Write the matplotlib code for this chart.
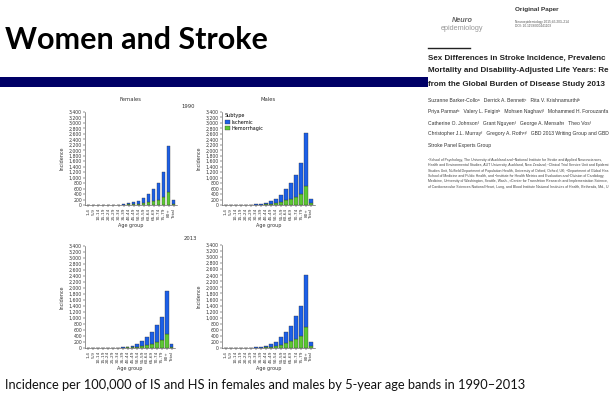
import numpy as np
import matplotlib
matplotlib.use("Agg")
import matplotlib.pyplot as plt
from matplotlib.patches import Rectangle

# --- data (incidence per 100,000) ---
AGE_GROUPS = ["1-4", "5-9", "10-14", "15-19", "20-24", "25-29", "30-34", "35-39",
              "40-44", "45-49", "50-54", "55-59", "60-64", "65-69", "70-74",
              "75-79", "80+", "Total"]

# hemorrhagic (bottom, green) and ischemic (top, blue)
F1990_HS = [2, 2, 2, 3, 4, 6, 8, 12, 20, 35, 50, 70, 100, 140, 200, 290, 460, 45]
F1990_IS = [4, 3, 3, 3, 4, 6, 10, 18, 35, 65, 110, 180, 290, 440, 620, 910, 1690, 125]
M1990_HS = [2, 2, 2, 3, 4, 6, 10, 18, 30, 50, 80, 120, 170, 220, 310, 400, 680, 60]
M1990_IS = [4, 3, 3, 3, 4, 8, 12, 22, 40, 80, 150, 260, 410, 580, 790, 1150, 1970, 160]
F2013_HS = [2, 2, 2, 3, 4, 5, 7, 10, 18, 30, 45, 70, 100, 140, 190, 280, 480, 35]
F2013_IS = [3, 3, 3, 3, 4, 5, 8, 15, 27, 50, 105, 170, 270, 380, 570, 740, 1420, 105]
M2013_HS = [2, 2, 2, 3, 4, 6, 9, 15, 25, 45, 70, 110, 160, 220, 300, 400, 690, 55]
M2013_IS = [3, 3, 3, 3, 4, 6, 10, 18, 35, 75, 140, 240, 380, 510, 750, 980, 1730, 135]

BLUE = "#1c5fe8"
GREEN = "#5cc832"
NAVY = "#000066"
PAPER_FONT = "Liberation Sans"

W, H = 610, 400
fig = plt.figure(figsize=(6.1, 4.0), dpi=100)
fig.patch.set_facecolor("white")
renderer = fig.canvas.get_renderer()


def px_axes(l, t, r, b):
    return fig.add_axes([l / W, 1 - b / H, (r - l) / W, (b - t) / H])


def clipped_text(x, y, s, **kw):
    # the slide shows the paper cut off at the right edge; trim to what fits
    t = fig.text(x / W, 1 - y / H, s, ha="left", va="center", family=PAPER_FONT, **kw)
    while s and t.get_window_extent(renderer).x1 > W - 1:
        s = s[:-1]
        t.set_text(s)
    return t


def panel(ax, hs, is_, title=None):
    x = np.arange(len(AGE_GROUPS))
    ax.bar(x, hs, width=0.78, color=GREEN, edgecolor="#333333", linewidth=0.25)
    ax.bar(x, is_, bottom=hs, width=0.78, color=BLUE, edgecolor="#333333", linewidth=0.25)
    ax.set_xlim(-0.7, len(AGE_GROUPS) - 0.3)
    ax.set_ylim(0, 3400)
    ax.set_yticks(np.arange(0, 3401, 200))
    ax.set_yticklabels([f"{v:,}" for v in range(0, 3401, 200)], fontsize=3.3, color="#333333")
    ax.set_xticks(x)
    ax.set_xticklabels(AGE_GROUPS, rotation=90, fontsize=3.1, color="#333333")
    ax.tick_params(length=1.2, width=0.3, pad=1)
    for s in ["top", "right"]:
        ax.spines[s].set_visible(False)
    for s in ["left", "bottom"]:
        ax.spines[s].set_linewidth(0.4)
        ax.spines[s].set_color("#444444")
    ax.set_ylabel("Incidence", fontsize=3.5, color="#333333", labelpad=3)
    ax.set_xlabel("Age group", fontsize=3.5, color="#333333", labelpad=2)
    if title:
        ax.set_title(title, fontsize=3.8, color="#333333", pad=8)


ax1 = px_axes(85, 112, 177, 205)
panel(ax1, F1990_HS, F1990_IS, "Females")
ax2 = px_axes(222, 112, 315, 205)
panel(ax2, M1990_HS, M1990_IS, "Males")
ax3 = px_axes(85, 246, 175, 348)
panel(ax3, F2013_HS, F2013_IS)
ax4 = px_axes(222, 245, 315, 348)
panel(ax4, M2013_HS, M2013_IS)

handles = [Rectangle((0, 0), 1, 1, fc=BLUE, ec="#333333", lw=0.25),
           Rectangle((0, 0), 1, 1, fc=GREEN, ec="#333333", lw=0.25)]
leg = ax2.legend(handles, ["Ischemic", "Hemorrhagic"], title="Subtype", loc="upper left",
                 bbox_to_anchor=(0.0, 1.02), fontsize=3.5, title_fontsize=3.5,
                 frameon=False, handlelength=1.0, handleheight=1.0, handletextpad=0.4,
                 labelspacing=0.3, borderaxespad=0.2)
leg._legend_box.align = "left"

fig.text(188 / W, 1 - 107 / H, "1990", fontsize=3.8, color="#333333", ha="center", va="center")
fig.text(190 / W, 1 - 238 / H, "2013", fontsize=3.8, color="#333333", ha="center", va="center")

# slide title and navy rule
fig.text(5 / W, 1 - 40 / H, "Women and Stroke", fontsize=22, fontweight="bold",
         family="Lato", color="black", ha="left", va="center")
fig.add_artist(Rectangle((0, 1 - 87 / H), 428 / W, 10 / H, transform=fig.transFigure,
                         fc=NAVY, ec="none"))

# paper excerpt on the right
fig.text(515 / W, 1 - 9 / H, "Original Paper", fontsize=4.6, fontweight="bold",
         family=PAPER_FONT, color="#333333", ha="left", va="center")
fig.text(515 / W, 1 - 22 / H, "Neuroepidemiology 2015;45:203–214", fontsize=2.3,
         family=PAPER_FONT, color="#555555", ha="left", va="center")
fig.text(515 / W, 1 - 26 / H, "DOI: 10.1159/000441103", fontsize=2.3,
         family=PAPER_FONT, color="#555555", ha="left", va="center")
fig.text(462 / W, 1 - 20 / H, "Neuro", fontsize=5.2, fontweight="bold", style="italic",
         family=PAPER_FONT, color="#666666", ha="center", va="center")
fig.text(462 / W, 1 - 28 / H, "epidemiology", fontsize=5.2, family=PAPER_FONT,
         color="#999999", ha="center", va="center")
fig.add_artist(plt.Line2D([428 / W, 470 / W], [1 - 48 / H, 1 - 48 / H],
                          transform=fig.transFigure, color="#222222", lw=1.0))

paper_title = ["Sex Differences in Stroke Incidence, Prevalence,",
               "Mortality and Disability-Adjusted Life Years: Results",
               "from the Global Burden of Disease Study 2013"]
for i, line in enumerate(paper_title):
    clipped_text(428, 58 + 13 * i, line, fontsize=5.8, fontweight="bold", color="#222222")

authors = ["Suzanne Barker-Collo\u1d43   Derrick A. Bennett\u1d9c   Rita V. Krishnamurthi\u1d47",
           "Priya Parmar\u1d47   Valery L. Feigin\u1d47   Mohsen Naghavi\u1da0   Mohammed H. Forouzanfar\u1da0",
           "Catherine O. Johnson\u1da0   Grant Nguyen\u1da0   George A. Mensah\u1d4d   Theo Vos\u1da0",
           "Christopher J.L. Murray\u1da0   Gregory A. Roth\u1d49\u02b2\u1da0   GBD 2013 Writing Group and GBD 2013",
           "Stroke Panel Experts Group"]
for i, line in enumerate(authors):
    clipped_text(428, 101 + 11 * i, line, fontsize=3.6, color="#333333")

affil = ["\u1d43School of Psychology, The University of Auckland and \u1d47National Institute for Stroke and Applied Neurosciences,",
         "Health and Environmental Studies, AUT University, Auckland, New Zealand; \u1d9cClinical Trial Service Unit and Epidemiological",
         "Studies Unit, Nuffield Department of Population Health, University of Oxford, Oxford, UK; \u1d48Department of Global Health,",
         "School of Medicine and Public Health, and \u1d49Institute for Health Metrics and Evaluation and \u1da0Division of Cardiology,",
         "Medicine, University of Washington, Seattle, Wash., \u1d4dCenter for Translation Research and Implementation Science,",
         "of Cardiovascular Sciences National Heart, Lung, and Blood Institute National Institutes of Health, Bethesda, Md., USA"]
for i, line in enumerate(affil):
    clipped_text(428, 160 + 5.3 * i, line, fontsize=2.5, color="#444444")

# caption
fig.text(5 / W, 1 - 385 / H,
         "Incidence per 100,000 of IS and HS in females and males by 5-year age bands in 1990\u20132013",
         fontsize=9.3, family="Lato", color="#111111", ha="left", va="center")

fig.savefig("out.png", dpi=100, facecolor="white")
